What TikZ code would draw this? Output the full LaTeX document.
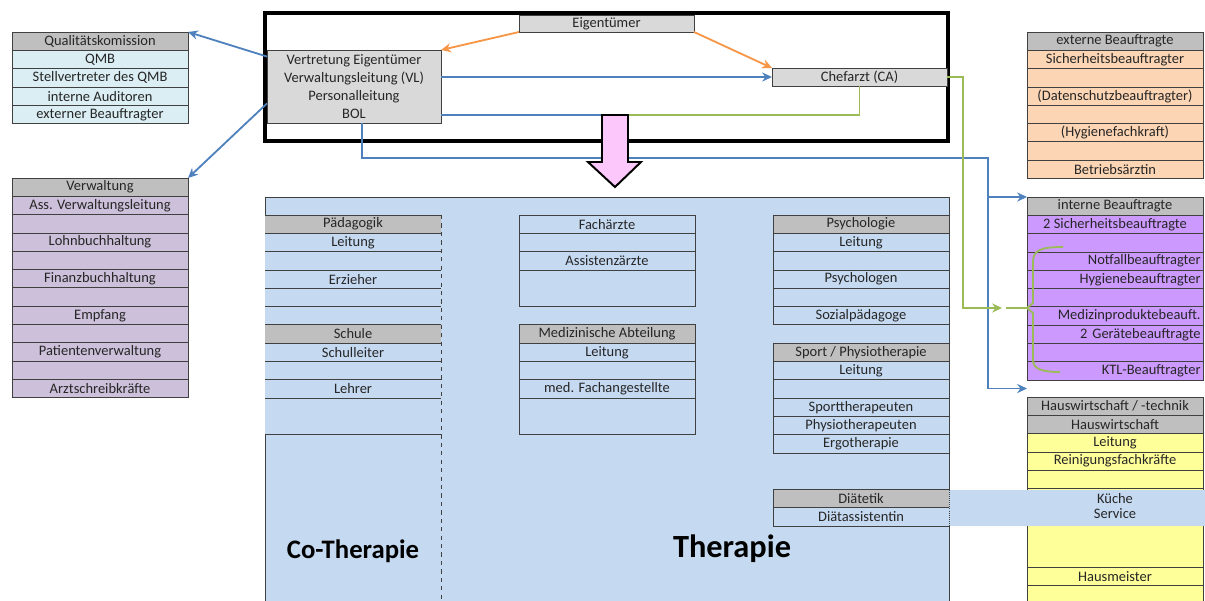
\documentclass[tikz,border=0pt]{standalone}
\usepackage{fontspec}
\setmainfont{Carlito}
\usetikzlibrary{positioning,calc,arrows.meta}
\definecolor{hdgray}{HTML}{BFBFBF}
\definecolor{ltgray}{HTML}{D9D9D9}
\definecolor{qkcyan}{HTML}{DAEEF3}
\definecolor{vwlila}{HTML}{CCC0DA}
\definecolor{expeach}{HTML}{FCD5B4}
\definecolor{inviolet}{HTML}{CC99FF}
\definecolor{hwyellow}{HTML}{FFFF99}
\definecolor{thblue}{HTML}{C5D9F1}
\definecolor{lnblue}{HTML}{4F81BD}
\definecolor{lnorange}{HTML}{F79646}
\definecolor{lngreen}{HTML}{9BBB59}
\definecolor{arrpink}{HTML}{FCC8FC}
\definecolor{gridline}{HTML}{404040}
\definecolor{txtcol}{HTML}{262626}
\newcommand{\rowfont}{\fontsize{10.3}{12.8}\selectfont}

\begin{document}
\begin{tikzpicture}[x=0.025cm,y=-0.025cm,
  >={Stealth[length=7pt,width=6.5pt]},
  cell/.style={draw=gridline,line width=.5pt,minimum width=4.4cm,minimum height=.4575cm,
    inner sep=0pt,outer sep=0pt,text=txtcol,font=\rowfont,anchor=north west},
  hd/.style={fill=hdgray},
  rw/.style={},
  tall/.style={minimum height=.915cm},
  xtall/.style={minimum height=1.05cm},
  rr/.style={text width=4.28cm,align=right},
  hcell/.style={draw=none,append after command={
    (\tikzlastnode.north west) edge[draw=gridline,line width=.5pt] (\tikzlastnode.north east)
    (\tikzlastnode.south west) edge[draw=gridline,line width=.5pt] (\tikzlastnode.south east)}},
  mgr/.style={draw=gridline,line width=.5pt,fill=ltgray,inner sep=0pt,outer sep=0pt,
    text=txtcol,font=\rowfont,align=center,anchor=north west},
  bl/.style={lnblue,line width=1.3pt},
  og/.style={lnorange,line width=1.3pt},
  gr/.style={lngreen,line width=1.3pt}]
  \useasboundingbox (0,0) rectangle (1205,600);

  \draw[line width=2.8pt] (265,13) rectangle (948,141);
  \node[mgr,minimum width=4.375cm,minimum height=.425cm] (eig) at (519,15) {Eigentümer};
  \node[mgr,minimum width=4.35cm,minimum height=1.825cm,font=\fontsize{10.3}{12.9}\selectfont] (vl) at (267,50)
    {Vertretung Eigentümer\\Verwaltungsleitung (VL)\\Personalleitung\\BOL};
  \node[mgr,minimum width=4.375cm,minimum height=.45cm] (ca) at (772,68) {Chefarzt (CA)};

  \node[cell,fill=qkcyan,hd] (qk0) at (12,32) {Qualitätskomission};
  \foreach \txt [count=\i,remember=\i as \j (initially 0)] in
    {QMB,Stellvertreter des QMB,interne Auditoren,externer Beauftragter}
    \node[cell,fill=qkcyan,below=0pt of qk\j] (qk\i) {\txt};

  \node[cell,fill=vwlila,hd] (vw0) at (12,178) {Verwaltung};
  \foreach \txt [count=\i,remember=\i as \j (initially 0)] in
    {Ass. Verwaltungsleitung,{},Lohnbuchhaltung,{},Finanzbuchhaltung,{},Empfang,{},
     Patientenverwaltung,{},Arztschreibkräfte}
    \node[cell,fill=vwlila,below=0pt of vw\j] (vw\i) {\txt};

  \draw[draw=gridline,fill=thblue,line width=.5pt] (265,197) rectangle (949,602);

  \node[cell,fill=thblue,hcell,hd] (pd0) at (265,215) {Pädagogik};
  \foreach \s/\txt [count=\i,remember=\i as \j (initially 0)] in
    {rw/Leitung,rw/{},rw/Erzieher,rw/{},rw/{},hd/Schule,rw/Schulleiter,rw/{},rw/Lehrer,tall/{}}
    \node[cell,fill=thblue,hcell,\s,below=0pt of pd\j] (pd\i) {\txt};
  \draw[draw=gridline,dashed,line width=.5pt] (pd0.north east) -- ++(0,387);

  \node[cell,fill=thblue] (fa0) at (519,215) {Fachärzte};
  \foreach \s/\txt [count=\i,remember=\i as \j (initially 0)] in
    {rw/{},rw/Assistenzärzte,tall/{}}
    \node[cell,fill=thblue,\s,below=0pt of fa\j] (fa\i) {\txt};

  \node[cell,fill=thblue,hd] (ma0) at (519,324.8) {Medizinische Abteilung};
  \foreach \s/\txt [count=\i,remember=\i as \j (initially 0)] in
    {rw/Leitung,rw/{},rw/{med. Fachangestellte},tall/{}}
    \node[cell,fill=thblue,\s,below=0pt of ma\j] (ma\i) {\txt};

  \node[cell,fill=thblue,hd] (ps0) at (773,215) {Psychologie};
  \foreach \s/\txt [count=\i,remember=\i as \j (initially 0)] in
    {rw/Leitung,rw/{},rw/Psychologen,rw/{},rw/Sozialpädagoge}
    \node[cell,fill=thblue,\s,below=0pt of ps\j] (ps\i) {\txt};

  \node[cell,fill=thblue,hd] (sp0) at (773,343.1) {Sport / Physiotherapie};
  \foreach \s/\txt [count=\i,remember=\i as \j (initially 0)] in
    {rw/Leitung,rw/{},rw/Sporttherapeuten,rw/Physiotherapeuten,rw/Ergotherapie}
    \node[cell,fill=thblue,\s,below=0pt of sp\j] (sp\i) {\txt};

  \node[cell,fill=thblue,hd] (dt0) at (773,489.5) {Diätetik};
  \node[cell,fill=thblue,below=0pt of dt0] (dt1) {Diätassistentin};

  \node[cell,fill=expeach,hd] (ex0) at (1027,32) {externe Beauftragte};
  \foreach \txt [count=\i,remember=\i as \j (initially 0)] in
    {Sicherheitsbeauftragter,{},(Datenschutzbeauftragter),{},(Hygienefachkraft),{},Betriebsärztin}
    \node[cell,fill=expeach,below=0pt of ex\j] (ex\i) {\txt};

  \node[cell,fill=inviolet,hd] (ib0) at (1027,197) {interne Beauftragte};
  \foreach \s/\txt [count=\i,remember=\i as \j (initially 0)] in
    {rw/{2 Sicherheitsbeauftragte},rw/{},rr/Notfallbeauftragter,rr/Hygienebeauftragter,rw/{},
     rr/{Medizinproduktebeauft.},rr/{2 Gerätebeauftragte},rw/{},rr/{KTL-Beauftragter}}
    \node[cell,fill=inviolet,\s,below=0pt of ib\j] (ib\i) {\txt};

  \node[cell,fill=hwyellow,hd] (hw0) at (1027,397) {Hauswirtschaft / -technik};
  \foreach \s/\txt [count=\i,remember=\i as \j (initially 0)] in
    {hd/Hauswirtschaft,rw/Leitung,rw/Reinigungsfachkräfte,rw/{},tall/{},xtall/{},rw/Hausmeister,rw/{}}
    \node[cell,fill=hwyellow,\s,below=0pt of hw\j] (hw\i) {\txt};

  \fill[thblue] (949,489.5) rectangle (1205,526);
  \draw[draw=gridline,densely dotted,line width=.5pt] (dt0.north east) -- (dt1.south east);
  \node[text=txtcol,align=center,font=\fontsize{10.3}{11}\selectfont] (kue) at (1115,506) {Küche\\Service};

  \node[font=\fontsize{19}{22}\selectfont\bfseries] (cot) at (353,551) {Co-Therapie};
  \node[font=\fontsize{23}{26}\selectfont\bfseries] (ther) at (732,549) {Therapie};

  \coordinate (bk) at (988,158);
  \draw[bl,->] (vl.-78) |- (bk) |- (ib0.north west);
  \draw[bl,->] (bk) |- ($(ib9.south west)!.5!(hw0.north west)$);

  \coordinate (pkl) at (602,115);
  \coordinate (pkr) at (628,115);
  \draw[bl] (vl.-18) -- (vl.-18 -| pkl);
  \draw[gr] (ca.south) |- (pkr);
  \draw[fill=arrpink,line width=1.4pt,line join=miter]
    (pkl) -- (pkr) -- (628,162) -- (641,162) -- (615,187) -- (588,162) -- (602,162) -- cycle;

  \draw[og,->] (eig.south west) -- (vl.north east);
  \draw[og,->] (eig.south east) -- (ca.north west);
  \draw[bl,->] (vl.east |- ca.west) -- (ca.west);
  \draw[bl,->] (vl.161) -- (qk0.north east);
  \draw[bl,->] (vl.191) -- (vw0.north east);

  \coordinate (ga) at (1002,308);
  \coordinate (gb) at (1006,308);
  \coordinate (brc) at (1027,308);
  \draw[gr,->] (ca.east) -- ++(16,0) |- (ga);
  \draw[gr] (gb) -- (brc);
  \draw[gr] (1063,247) .. controls (1041,247) and (1033,250) .. (1033,262) -- (1033,303) -- (brc)
    -- (1033,313) -- (1033,360) .. controls (1033,369) and (1042,372) .. (1060,372);
\end{tikzpicture}
\end{document}
